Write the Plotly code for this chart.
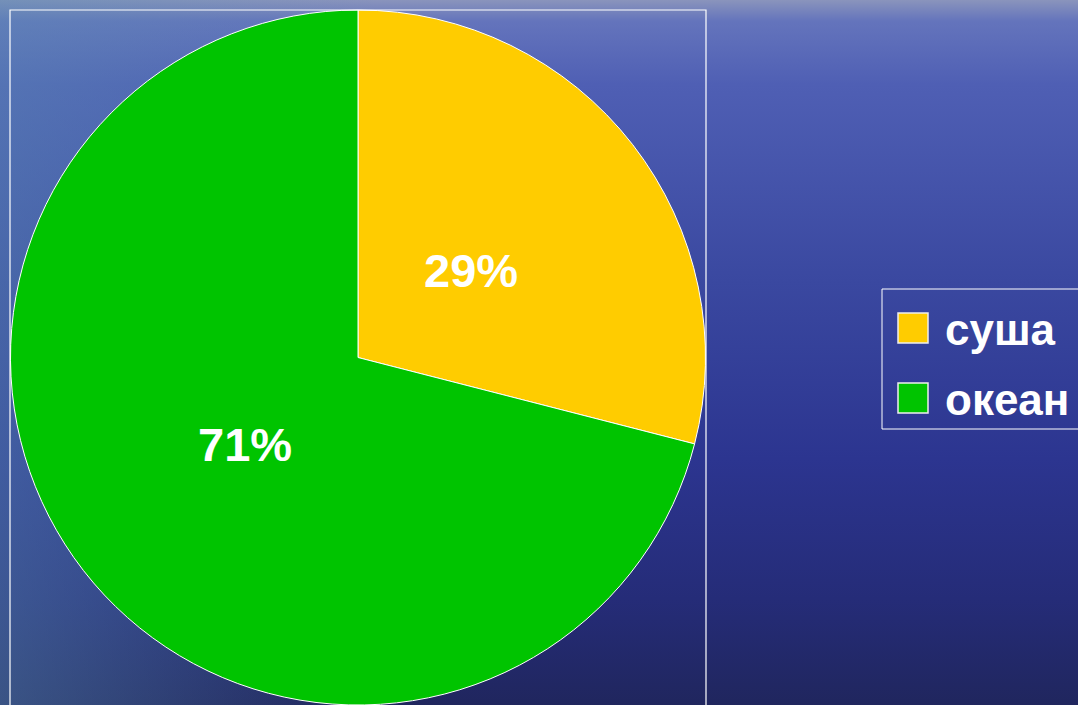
import math
import plotly.graph_objects as go

labels = ["суша", "океан"]
values = [29, 71]
colors = ["#FFCC00", "#00C400"]

W, H = 1078, 705
FONT = "Liberation Sans, Arial, sans-serif"

# pie geometry (paper fractions)
DX0, DX1 = 10 / W, 706 / W
DY0, DY1 = 0.0, 695 / H
LABEL_R = 0.41  # fraction of radius where labels sit

# legend layout (pixels from top-left)
LEG_X0, LEG_Y0, LEG_Y1 = 882, 289, 429
SW_X0, SW_SIZE = 898, 30
SW_Y0_FIRST, SW_STEP = 313, 70
TXT_X = 943


def px_x(p):
    return p / W


def px_y(p):
    return 1 - p / H


fig = go.Figure()

# background gradient (decorative)
fig.add_trace(go.Scatter(
    x=[0, 1, 1, 0, 0], y=[0, 0, 1, 1, 0], mode="lines", line=dict(width=0),
    fill="toself", hoverinfo="skip", showlegend=False,
    fillgradient=dict(type="vertical", colorscale=[
        [0.0, "#20265e"], [0.15, "#252c78"], [0.35, "#2c3590"],
        [0.6, "#3a48a0"], [0.88, "#4f5fb4"], [0.97, "#6474bc"], [1.0, "#8a94bc"]]),
))
fig.add_trace(go.Scatter(
    x=[0, 1, 1, 0, 0], y=[0, 0, 1, 1, 0], mode="lines", line=dict(width=0),
    fill="toself", hoverinfo="skip", showlegend=False,
    fillgradient=dict(type="horizontal", colorscale=[
        [0.0, "rgba(90,140,180,0.45)"], [0.35, "rgba(90,140,180,0.0)"],
        [1.0, "rgba(90,140,180,0.0)"]]),
))

fig.add_trace(go.Pie(
    labels=labels, values=values, sort=False, direction="clockwise", rotation=0,
    marker=dict(colors=colors, line=dict(color="white", width=1)),
    textinfo="none", showlegend=False,
    domain=dict(x=[DX0, DX1], y=[DY0, DY1]),
    hoverinfo="label+percent",
))

# percentage labels placed at the mid-angle of each slice
total = sum(values)
cx_px = (DX0 + DX1) / 2 * W
cy_px = (DY0 + DY1) / 2 * H
R_px = min((DX1 - DX0) * W, (DY1 - DY0) * H) / 2
cum = 0
for v in values:
    mid = (cum + v / 2) / total * 2 * math.pi
    cum += v
    ax = cx_px + LABEL_R * R_px * math.sin(mid)
    ay = cy_px + LABEL_R * R_px * math.cos(mid)
    fig.add_annotation(
        x=ax / W, y=ay / H, xref="paper", yref="paper", showarrow=False,
        xanchor="center", yanchor="middle",
        text=f"{round(100 * v / total)}%",
        font=dict(family=FONT, size=47, color="white", weight="bold"),
    )

# plot-area frame
fig.add_shape(type="rect", xref="paper", yref="paper",
              x0=DX0, x1=DX1, y0=-0.02, y1=DY1,
              line=dict(color="white", width=1.2), fillcolor="rgba(0,0,0,0)", layer="above")

# legend: frame, swatches and labels
fig.add_shape(type="rect", xref="paper", yref="paper",
              x0=px_x(LEG_X0), x1=1.02, y0=px_y(LEG_Y1), y1=px_y(LEG_Y0),
              line=dict(color="white", width=1), fillcolor="rgba(0,0,0,0)")
for i, (lab, col) in enumerate(zip(labels, colors)):
    y0 = SW_Y0_FIRST + i * SW_STEP
    fig.add_shape(type="rect", xref="paper", yref="paper",
                  x0=px_x(SW_X0), x1=px_x(SW_X0 + SW_SIZE),
                  y0=px_y(y0 + SW_SIZE), y1=px_y(y0),
                  line=dict(color="#eeeeee", width=1.5), fillcolor=col)
    fig.add_annotation(
        x=px_x(TXT_X), y=px_y(y0 + SW_SIZE / 2 + 1), xref="paper", yref="paper",
        showarrow=False, xanchor="left", yanchor="middle", text=lab,
        font=dict(family=FONT, size=44, color="white", weight="bold"),
    )

fig.update_layout(
    width=W, height=H,
    margin=dict(l=0, r=0, t=0, b=0),
    paper_bgcolor="#2a3570", plot_bgcolor="rgba(0,0,0,0)",
    xaxis=dict(visible=False, range=[0, 1], domain=[0, 1], fixedrange=True),
    yaxis=dict(visible=False, range=[0, 1], domain=[0, 1], fixedrange=True),
    showlegend=False,
)

fig.write_html("out.html", config={"displayModeBar": False},
               post_script="document.body.style.margin='0';")
